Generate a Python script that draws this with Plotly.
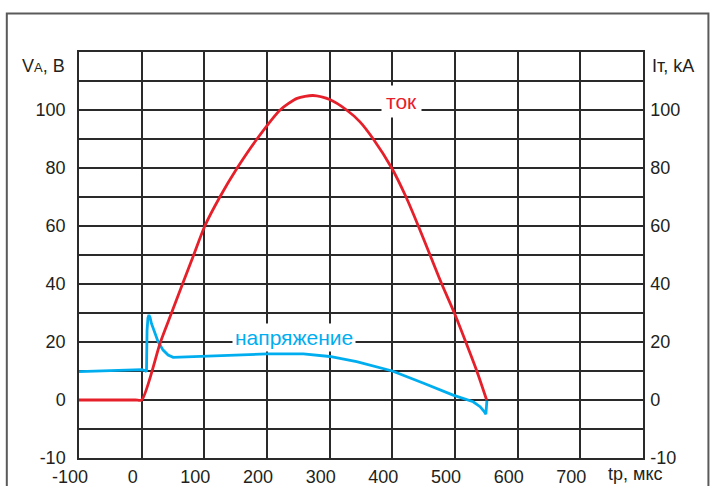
import plotly.graph_objects as go

# ---- data ----
time_current = [-100, -10, 0, 30, 47.6, 65.2, 83, 100.8, 124.8, 152.4, 184, 221, 248,
                273.4, 300, 327, 348, 369.6, 399, 421.9, 441.5, 460.2, 478.9, 499, 517.2, 534.8, 550.5]
current_kA = [0, 0, 0, 20, 30, 40, 50, 60, 70, 80, 90, 100, 104,
              105, 103.6, 100, 96, 90, 80, 70, 60, 50, 40, 30, 20, 10, 0]

time_voltage = [-100, -50, 0, 5, 7.7, 8.6, 10, 11.6, 13.5, 15.6, 20.9, 26.2, 34.2, 42.2, 50.2,
                71.6, 120, 200, 258, 300, 343, 380, 400, 450, 497, 529, 540, 546, 549.3, 550.9]
voltage_V = [9.8, 10.1, 10.5, 10.2, 9.8, 24.0, 28.3, 29.3, 28.4, 26.4, 23.0, 20.1, 17.2, 15.5, 14.7,
             14.9, 15.3, 15.9, 15.9, 15.0, 13.2, 11.2, 10.0, 5.8, 1.7, -0.6, -2.3, -3.8, -4.9, -0.2]

x_tick_vals = [-100, 0, 100, 200, 300, 400, 500, 600, 700]
x_tick_text = ["-100", "0", "100", "200", "300", "400", "500", "600", "700"]
y_tick_vals = [-20, -10, 0, 10, 20, 30, 40, 50, 60, 70, 80, 90, 100, 110, 120]
y_tick_text = ["-10", "", "0", "", "20", "", "40", "", "60", "", "80", "", "100", "", ""]

label_current = "ток"
label_voltage = "напряжение"

RED = "#e6202a"
BLUE = "#00aeef"
GRID = "#2a2a2a"
FONT = "Liberation Sans, Arial, sans-serif"

fig = go.Figure()
fig.add_trace(go.Scatter(x=time_voltage, y=voltage_V, mode="lines",
                         line=dict(color=BLUE, width=2.8), yaxis="y", showlegend=False))
fig.add_trace(go.Scatter(x=time_current, y=current_kA, mode="lines",
                         line=dict(color=RED, width=2.8, shape="spline", smoothing=0.7),
                         yaxis="y2", showlegend=False))

axis_common = dict(showline=True, linecolor=GRID, linewidth=1.5, zeroline=False, ticks="",
                   automargin=False,
                   tickfont=dict(family=FONT, size=18, color="#231f20"))

fig.update_layout(
    width=712, height=486,
    margin=dict(l=79, r=69, t=52, b=28),
    paper_bgcolor="white", plot_bgcolor="white",
    xaxis=dict(range=[-100, 800], tickmode="array", tickvals=x_tick_vals, ticktext=x_tick_text,
               showgrid=True, gridcolor=GRID, gridwidth=1.5, mirror=True,
               ticklabelshift=-9, ticklabelstandoff=2, **axis_common),
    yaxis=dict(range=[-20, 120], tickmode="array", tickvals=y_tick_vals, ticktext=y_tick_text,
               showgrid=True, gridcolor=GRID, gridwidth=1.5, mirror=True,
               ticklabelstandoff=8, **axis_common),
    yaxis2=dict(range=[-20, 120], tickmode="array", tickvals=y_tick_vals, ticktext=y_tick_text,
                overlaying="y", side="right", anchor="x", showgrid=False,
                ticklabelstandoff=2, **axis_common),
    annotations=[
        dict(x=413.9, y=102.8, xref="x", yref="y", text=label_current, showarrow=False,
             font=dict(family=FONT, size=21, color=RED), bgcolor="white", borderpad=4),
        dict(x=243.8, y=21.5, xref="x", yref="y", text=label_voltage, showarrow=False,
             font=dict(family=FONT, size=21, color=BLUE), bgcolor="white", borderpad=2),
        dict(x=-0.022, y=0.966, xref="paper", yref="paper", xanchor="right", yanchor="middle",
             text="V<span style='font-size:13px'>A</span>, B", showarrow=False,
             font=dict(family=FONT, size=18, color="#231f20")),
        dict(x=1.013, y=0.966, xref="paper", yref="paper", xanchor="left", yanchor="middle",
             text="Iт, kA", showarrow=False, font=dict(family=FONT, size=18, color="#231f20")),
        dict(x=0.9366, y=-0.067, xref="paper", yref="paper", xanchor="left", yanchor="bottom",
             text="tр, мкс", showarrow=False, borderpad=0,
             font=dict(family=FONT, size=18, color="#231f20")),
    ],
    shapes=[dict(type="rect", xref="paper", yref="paper", x0=-0.128, x1=1.116, y0=-0.12, y1=1.095,
                 line=dict(color="#5a5a5a", width=2), layer="above")],
)

fig.write_html("out.html")
